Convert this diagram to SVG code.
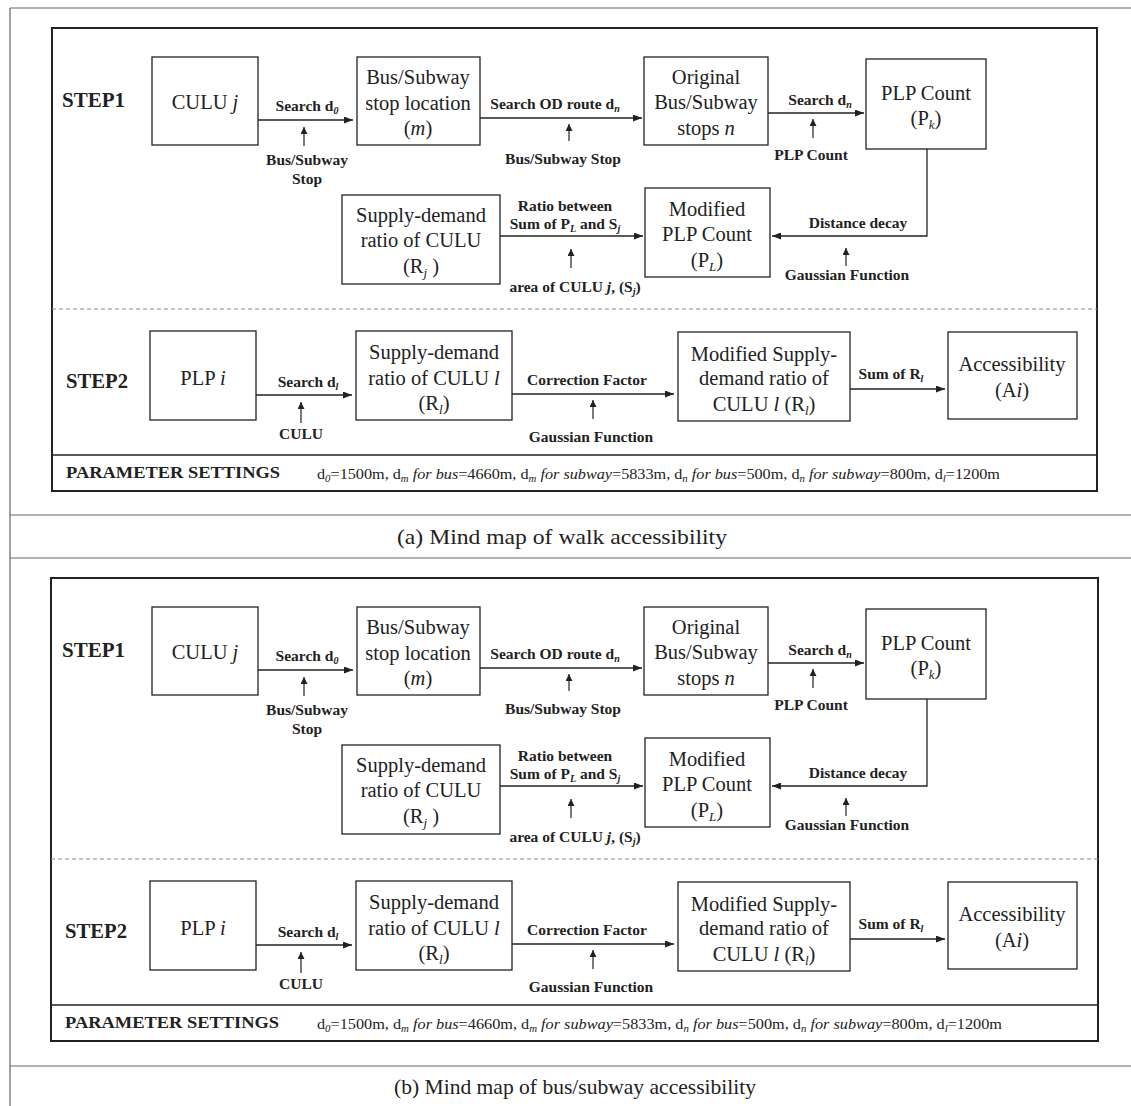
<svg xmlns="http://www.w3.org/2000/svg" width="1131" height="1106" viewBox="0 0 1131 1106">
<style>
.bx{fill:#fff;stroke:#222;stroke-width:1.3}
.nt{font-family:"Liberation Serif",serif;font-size:20.5px;fill:#222;text-anchor:middle}
.lb{font-family:"Liberation Serif",serif;font-size:15.5px;font-weight:bold;fill:#222;text-anchor:middle}
.st{font-family:"Liberation Serif",serif;font-size:21px;font-weight:bold;fill:#222}
.cn{fill:none;stroke:#222;stroke-width:1.3}
.up{fill:none;stroke:#222;stroke-width:1.2}
.pn{fill:none;stroke:#222;stroke-width:2}
.tb{stroke:#666;stroke-width:1.2;fill:none}
.cap{font-family:"Liberation Serif",serif;font-size:21px;fill:#222;text-anchor:middle}
.pm{font-family:"Liberation Serif",serif;font-size:15px;fill:#222}
.ps{font-family:"Liberation Serif",serif;font-size:17px;font-weight:bold;fill:#222}
.dash{stroke:#888;stroke-width:1;stroke-dasharray:4 3}
</style>
<defs>
<marker id="ah" markerWidth="9" markerHeight="7" refX="9" refY="3.5" orient="auto" markerUnits="userSpaceOnUse"><path d="M0,0 L9,3.5 L0,7 z" fill="#222"/></marker>
<marker id="au" markerWidth="7" markerHeight="8" refX="7" refY="3.5" orient="auto" markerUnits="userSpaceOnUse"><path d="M0,0 L7,3.5 L0,7 z" fill="#222"/></marker>
</defs>
<rect width="1131" height="1106" fill="#fff"/>
<g id="table">
<line class="tb" x1="10" y1="8" x2="1131" y2="8"/>
<line class="tb" x1="10" y1="8" x2="10" y2="1106"/>
<line class="tb" x1="10" y1="515" x2="1131" y2="515"/>
<line class="tb" x1="10" y1="558" x2="1131" y2="558"/>
<line class="tb" x1="10" y1="1066" x2="1131" y2="1066"/>
<text class="cap" x="562" y="544" textLength="330" lengthAdjust="spacingAndGlyphs">(a) Mind map of walk accessibility</text>
<text class="cap" x="575" y="1094" textLength="362" lengthAdjust="spacingAndGlyphs">(b) Mind map of bus/subway accessibility</text>
</g>

<!-- Panel A -->
<g id="panelA">
<rect class="pn" x="52" y="28" width="1045" height="463"/>
<line class="dash" x1="52" y1="309" x2="1097" y2="309"/>
<line class="cn" x1="52" y1="455" x2="1097" y2="455"/>
<text class="st" x="62" y="107" textLength="63" lengthAdjust="spacingAndGlyphs">STEP1</text>
<text class="st" x="66" y="388" textLength="62" lengthAdjust="spacingAndGlyphs">STEP2</text>
<text class="ps" x="66" y="478" textLength="214" lengthAdjust="spacingAndGlyphs">PARAMETER SETTINGS</text>
<text class="pm" x="317" y="479" textLength="683" lengthAdjust="spacingAndGlyphs">d<tspan font-size="10" dy="3" font-style="italic">0</tspan><tspan dy="-3">=1500m, d</tspan><tspan font-size="10" dy="3" font-style="italic">m</tspan><tspan dy="-3"> </tspan><tspan font-style="italic">for bus</tspan>=4660m, d<tspan font-size="10" dy="3" font-style="italic">m</tspan><tspan dy="-3"> </tspan><tspan font-style="italic">for subway</tspan>=5833m, d<tspan font-size="10" dy="3" font-style="italic">n</tspan><tspan dy="-3"> </tspan><tspan font-style="italic">for bus</tspan>=500m, d<tspan font-size="10" dy="3" font-style="italic">n</tspan><tspan dy="-3"> </tspan><tspan font-style="italic">for subway</tspan>=800m, d<tspan font-size="10" dy="3" font-style="italic">l</tspan><tspan dy="-3">=1200m</tspan></text>
</g>
<g id="a_n1"><rect class="bx" x="152" y="57" width="106" height="88"/><text class="nt" x="205" y="109">CULU <tspan font-style="italic">j</tspan></text></g>
<g id="a_n2"><rect class="bx" x="357" y="57" width="123" height="88"/><text class="nt" x="418" y="84">Bus/Subway</text><text class="nt" x="418" y="110">stop location</text><text class="nt" x="418" y="135">(<tspan font-style="italic">m</tspan>)</text></g>
<g id="a_n3"><rect class="bx" x="644" y="57" width="124" height="88"/><text class="nt" x="706" y="84">Original</text><text class="nt" x="706" y="109">Bus/Subway</text><text class="nt" x="706" y="135">stops <tspan font-style="italic">n</tspan></text></g>
<g id="a_n4"><rect class="bx" x="866" y="59" width="120" height="90"/><text class="nt" x="926" y="100">PLP Count</text><text class="nt" x="926" y="125">(P<tspan font-size="13" dy="4" font-style="italic">k</tspan><tspan dy="-4">)</tspan></text></g>
<g id="a_n5"><rect class="bx" x="645" y="188" width="125" height="89"/><text class="nt" x="707" y="216">Modified</text><text class="nt" x="707" y="241">PLP Count</text><text class="nt" x="707" y="267">(P<tspan font-size="13" dy="4" font-style="italic">L</tspan><tspan dy="-4">)</tspan></text></g>
<g id="a_n6"><rect class="bx" x="342" y="195" width="158" height="89"/><text class="nt" x="421" y="222">Supply-demand</text><text class="nt" x="421" y="247">ratio of CULU</text><text class="nt" x="421" y="273">(R<tspan font-size="13" dy="4" font-style="italic">j</tspan><tspan dy="-4"> )</tspan></text></g>
<g id="a_n7"><rect class="bx" x="150" y="331" width="106" height="89"/><text class="nt" x="203" y="385">PLP <tspan font-style="italic">i</tspan></text></g>
<g id="a_n8"><rect class="bx" x="356" y="331" width="156" height="89"/><text class="nt" x="434" y="359">Supply-demand</text><text class="nt" x="434" y="385">ratio of CULU <tspan font-style="italic">l</tspan></text><text class="nt" x="434" y="410">(R<tspan font-size="13" dy="4" font-style="italic">l</tspan><tspan dy="-4">)</tspan></text></g>
<g id="a_n9"><rect class="bx" x="678" y="332" width="172" height="89"/><text class="nt" x="764" y="361">Modified Supply-</text><text class="nt" x="764" y="385">demand ratio of</text><text class="nt" x="764" y="411">CULU <tspan font-style="italic">l</tspan> (R<tspan font-size="13" dy="4" font-style="italic">l</tspan><tspan dy="-4">)</tspan></text></g>
<g id="a_n10"><rect class="bx" x="948" y="332" width="129" height="87"/><text class="nt" x="1012" y="371">Accessibility</text><text class="nt" x="1012" y="397">(A<tspan font-style="italic">i</tspan>)</text></g>
<g id="a_connectors">
<line class="cn" x1="258" y1="120" x2="353" y2="120" marker-end="url(#ah)"/>
<text class="lb" x="307" y="111">Search d<tspan font-size="10" dy="3" font-style="italic">0</tspan></text>
<line class="up" x1="304" y1="146" x2="304" y2="127" marker-end="url(#au)"/>
<text class="lb" x="307" y="165">Bus/Subway</text><text class="lb" x="307" y="184">Stop</text>
<line class="cn" x1="480" y1="118" x2="642" y2="118" marker-end="url(#ah)"/>
<text class="lb" x="555" y="109">Search OD route d<tspan font-size="10" dy="3" font-style="italic">n</tspan></text>
<line class="up" x1="569" y1="141" x2="569" y2="124" marker-end="url(#au)"/>
<text class="lb" x="563" y="164">Bus/Subway Stop</text>
<line class="cn" x1="768" y1="113" x2="864" y2="113" marker-end="url(#ah)"/>
<text class="lb" x="820" y="105">Search d<tspan font-size="10" dy="3" font-style="italic">n</tspan></text>
<line class="up" x1="813" y1="138" x2="813" y2="119" marker-end="url(#au)"/>
<text class="lb" x="811" y="160">PLP Count</text>
<polyline class="cn" points="927,149 927,236 772,236" marker-end="url(#ah)"/>
<text class="lb" x="858" y="228">Distance decay</text>
<line class="up" x1="846" y1="266" x2="846" y2="248" marker-end="url(#au)"/>
<text class="lb" x="847" y="280">Gaussian Function</text>
<line class="cn" x1="500" y1="236" x2="643" y2="236" marker-end="url(#ah)"/>
<text class="lb" x="565" y="211">Ratio between</text>
<text class="lb" x="565" y="229">Sum of P<tspan font-size="10" dy="3" font-style="italic">L</tspan><tspan dy="-3"> and S</tspan><tspan font-size="10" dy="3" font-style="italic">j</tspan></text>
<line class="up" x1="571" y1="268" x2="571" y2="249" marker-end="url(#au)"/>
<text class="lb" x="575" y="292">area of CULU <tspan font-style="italic">j</tspan>, (S<tspan font-size="10" dy="3" font-style="italic">j</tspan><tspan dy="-3">)</tspan></text>
<line class="cn" x1="256" y1="395" x2="352" y2="395" marker-end="url(#ah)"/>
<text class="lb" x="308" y="387">Search d<tspan font-size="10" dy="3" font-style="italic">l</tspan></text>
<line class="up" x1="301" y1="423" x2="301" y2="402" marker-end="url(#au)"/>
<text class="lb" x="301" y="439">CULU</text>
<line class="cn" x1="512" y1="394" x2="674" y2="394" marker-end="url(#ah)"/>
<text class="lb" x="587" y="385">Correction Factor</text>
<line class="up" x1="593" y1="419" x2="593" y2="400" marker-end="url(#au)"/>
<text class="lb" x="591" y="442">Gaussian Function</text>
<line class="cn" x1="850" y1="389" x2="945" y2="389" marker-end="url(#ah)"/>
<text class="lb" x="891" y="379">Sum of R<tspan font-size="10" dy="3" font-style="italic">l</tspan></text>
</g>

<!-- Panel B -->
<g transform="translate(0,550)">
<g id="panelB">
<rect class="pn" x="51" y="28" width="1047" height="463"/>
<line class="dash" x1="51" y1="309" x2="1098" y2="309"/>
<line class="cn" x1="51" y1="455" x2="1098" y2="455"/>
<text class="st" x="62" y="107" textLength="63" lengthAdjust="spacingAndGlyphs">STEP1</text>
<text class="st" x="65" y="388" textLength="62" lengthAdjust="spacingAndGlyphs">STEP2</text>
<text class="ps" x="65" y="478" textLength="214" lengthAdjust="spacingAndGlyphs">PARAMETER SETTINGS</text>
<text class="pm" x="317" y="479" textLength="685" lengthAdjust="spacingAndGlyphs">d<tspan font-size="10" dy="3" font-style="italic">0</tspan><tspan dy="-3">=1500m, d</tspan><tspan font-size="10" dy="3" font-style="italic">m</tspan><tspan dy="-3"> </tspan><tspan font-style="italic">for bus</tspan>=4660m, d<tspan font-size="10" dy="3" font-style="italic">m</tspan><tspan dy="-3"> </tspan><tspan font-style="italic">for subway</tspan>=5833m, d<tspan font-size="10" dy="3" font-style="italic">n</tspan><tspan dy="-3"> </tspan><tspan font-style="italic">for bus</tspan>=500m, d<tspan font-size="10" dy="3" font-style="italic">n</tspan><tspan dy="-3"> </tspan><tspan font-style="italic">for subway</tspan>=800m, d<tspan font-size="10" dy="3" font-style="italic">l</tspan><tspan dy="-3">=1200m</tspan></text>
</g>
<g id="b_n1"><rect class="bx" x="152" y="57" width="106" height="88"/><text class="nt" x="205" y="109">CULU <tspan font-style="italic">j</tspan></text></g>
<g id="b_n2"><rect class="bx" x="357" y="57" width="123" height="88"/><text class="nt" x="418" y="84">Bus/Subway</text><text class="nt" x="418" y="110">stop location</text><text class="nt" x="418" y="135">(<tspan font-style="italic">m</tspan>)</text></g>
<g id="b_n3"><rect class="bx" x="644" y="57" width="124" height="88"/><text class="nt" x="706" y="84">Original</text><text class="nt" x="706" y="109">Bus/Subway</text><text class="nt" x="706" y="135">stops <tspan font-style="italic">n</tspan></text></g>
<g id="b_n4"><rect class="bx" x="866" y="59" width="120" height="90"/><text class="nt" x="926" y="100">PLP Count</text><text class="nt" x="926" y="125">(P<tspan font-size="13" dy="4" font-style="italic">k</tspan><tspan dy="-4">)</tspan></text></g>
<g id="b_n5"><rect class="bx" x="645" y="188" width="125" height="89"/><text class="nt" x="707" y="216">Modified</text><text class="nt" x="707" y="241">PLP Count</text><text class="nt" x="707" y="267">(P<tspan font-size="13" dy="4" font-style="italic">L</tspan><tspan dy="-4">)</tspan></text></g>
<g id="b_n6"><rect class="bx" x="342" y="195" width="158" height="89"/><text class="nt" x="421" y="222">Supply-demand</text><text class="nt" x="421" y="247">ratio of CULU</text><text class="nt" x="421" y="273">(R<tspan font-size="13" dy="4" font-style="italic">j</tspan><tspan dy="-4"> )</tspan></text></g>
<g id="b_n7"><rect class="bx" x="150" y="331" width="106" height="89"/><text class="nt" x="203" y="385">PLP <tspan font-style="italic">i</tspan></text></g>
<g id="b_n8"><rect class="bx" x="356" y="331" width="156" height="89"/><text class="nt" x="434" y="359">Supply-demand</text><text class="nt" x="434" y="385">ratio of CULU <tspan font-style="italic">l</tspan></text><text class="nt" x="434" y="410">(R<tspan font-size="13" dy="4" font-style="italic">l</tspan><tspan dy="-4">)</tspan></text></g>
<g id="b_n9"><rect class="bx" x="678" y="332" width="172" height="89"/><text class="nt" x="764" y="361">Modified Supply-</text><text class="nt" x="764" y="385">demand ratio of</text><text class="nt" x="764" y="411">CULU <tspan font-style="italic">l</tspan> (R<tspan font-size="13" dy="4" font-style="italic">l</tspan><tspan dy="-4">)</tspan></text></g>
<g id="b_n10"><rect class="bx" x="948" y="332" width="129" height="87"/><text class="nt" x="1012" y="371">Accessibility</text><text class="nt" x="1012" y="397">(A<tspan font-style="italic">i</tspan>)</text></g>
<g id="b_connectors">
<line class="cn" x1="258" y1="120" x2="353" y2="120" marker-end="url(#ah)"/>
<text class="lb" x="307" y="111">Search d<tspan font-size="10" dy="3" font-style="italic">0</tspan></text>
<line class="up" x1="304" y1="146" x2="304" y2="127" marker-end="url(#au)"/>
<text class="lb" x="307" y="165">Bus/Subway</text><text class="lb" x="307" y="184">Stop</text>
<line class="cn" x1="480" y1="118" x2="642" y2="118" marker-end="url(#ah)"/>
<text class="lb" x="555" y="109">Search OD route d<tspan font-size="10" dy="3" font-style="italic">n</tspan></text>
<line class="up" x1="569" y1="141" x2="569" y2="124" marker-end="url(#au)"/>
<text class="lb" x="563" y="164">Bus/Subway Stop</text>
<line class="cn" x1="768" y1="113" x2="864" y2="113" marker-end="url(#ah)"/>
<text class="lb" x="820" y="105">Search d<tspan font-size="10" dy="3" font-style="italic">n</tspan></text>
<line class="up" x1="813" y1="138" x2="813" y2="119" marker-end="url(#au)"/>
<text class="lb" x="811" y="160">PLP Count</text>
<polyline class="cn" points="927,149 927,236 772,236" marker-end="url(#ah)"/>
<text class="lb" x="858" y="228">Distance decay</text>
<line class="up" x1="846" y1="266" x2="846" y2="248" marker-end="url(#au)"/>
<text class="lb" x="847" y="280">Gaussian Function</text>
<line class="cn" x1="500" y1="236" x2="643" y2="236" marker-end="url(#ah)"/>
<text class="lb" x="565" y="211">Ratio between</text>
<text class="lb" x="565" y="229">Sum of P<tspan font-size="10" dy="3" font-style="italic">L</tspan><tspan dy="-3"> and S</tspan><tspan font-size="10" dy="3" font-style="italic">j</tspan></text>
<line class="up" x1="571" y1="268" x2="571" y2="249" marker-end="url(#au)"/>
<text class="lb" x="575" y="292">area of CULU <tspan font-style="italic">j</tspan>, (S<tspan font-size="10" dy="3" font-style="italic">j</tspan><tspan dy="-3">)</tspan></text>
<line class="cn" x1="256" y1="395" x2="352" y2="395" marker-end="url(#ah)"/>
<text class="lb" x="308" y="387">Search d<tspan font-size="10" dy="3" font-style="italic">l</tspan></text>
<line class="up" x1="301" y1="423" x2="301" y2="402" marker-end="url(#au)"/>
<text class="lb" x="301" y="439">CULU</text>
<line class="cn" x1="512" y1="394" x2="674" y2="394" marker-end="url(#ah)"/>
<text class="lb" x="587" y="385">Correction Factor</text>
<line class="up" x1="593" y1="419" x2="593" y2="400" marker-end="url(#au)"/>
<text class="lb" x="591" y="442">Gaussian Function</text>
<line class="cn" x1="850" y1="389" x2="945" y2="389" marker-end="url(#ah)"/>
<text class="lb" x="891" y="379">Sum of R<tspan font-size="10" dy="3" font-style="italic">l</tspan></text>
</g>
</g>
</svg>
